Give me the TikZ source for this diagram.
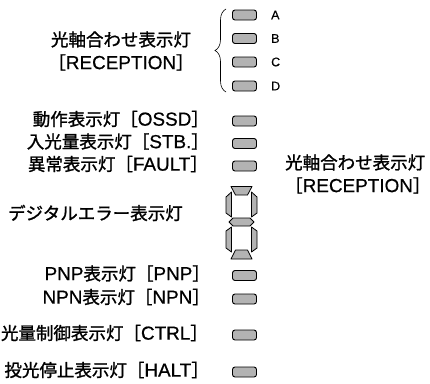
\documentclass[tikz,border=0pt]{standalone}
\usepackage{fontspec}
\setmainfont{Noto Sans CJK JP}[FakeBold=1.3]
\newfontfamily\latn{Liberation Sans}[Scale=1.08, FakeBold=0.6]
\newfontfamily\plainlatn{Liberation Sans}[FakeBold=0.3]
\newcommand{\ltx}[1]{{\latn #1}}
\usepackage{tikz}
\usetikzlibrary{positioning,decorations.pathreplacing}
\definecolor{ledgray}{HTML}{B3B3B3}

\begin{document}
\begin{tikzpicture}[
  x=1pt, y=-1pt,
  led/.style={draw, line width=0.9pt, rounded corners=2.5pt, fill=ledgray, minimum width=24pt, minimum height=10pt, inner sep=0pt},
  seg/.style={draw, line width=0.8pt, fill=ledgray, line join=round},
  lbl/.style={font=\fontsize{17.5}{23}\selectfont, inner sep=0pt, align=center},
  rowlbl/.style={lbl, yshift=2pt},
  chlbl/.style={font=\plainlatn\fontsize{12.5}{14}\selectfont, inner sep=0pt}
]
\useasboundingbox (0,0) rectangle (430,383);
% reception LEDs A-D
\node[led] (ledA) at (244.5,15) {};
\node[led] (ledB) at (244.5,38.5) {};
\node[led] (ledC) at (244.5,62) {};
\node[led] (ledD) at (244.5,86) {};
\node[chlbl, right=14pt of ledA, anchor=west] (txtA) {A};
\node[chlbl, right=14pt of ledB, anchor=west] (txtB) {B};
\node[chlbl, right=14pt of ledC, anchor=west] (txtC) {C};
\node[chlbl, right=14pt of ledD, anchor=west] (txtD) {D};
\coordinate (braceTop) at (226,9);
\coordinate (braceBot) at (226,92);
\draw[line width=0.6pt, decorate, decoration={brace, amplitude=11pt, aspect=0.5}] (braceBot) -- (braceTop);
\node[lbl] (recL) at (121,51) {光軸合わせ表示灯\\［\ltx{RECEPTION}］};
% status LEDs
\node[led] (ledOssd) at (244.5,121) {};
\node[led] (ledStb) at (244.5,143.5) {};
\node[led] (ledFault) at (244.5,166) {};
\node[rowlbl, left=23pt of ledOssd] (txtOssd) {動作表示灯［\ltx{OSSD}］};
\node[rowlbl, left=23pt of ledStb] (txtStb) {入光量表示灯［\ltx{STB.}］};
\node[rowlbl, left=24pt of ledFault] (txtFault) {異常表示灯［\ltx{FAULT}］};
\node[lbl, align=left, anchor=west] (recR) at (285,174) {光軸合わせ表示灯\\［\ltx{RECEPTION}］};
% digital error display
\draw[seg] (231,186.5) -- (252,186.5) -- (247.5,195) -- (235.5,195) -- cycle;
\draw[seg] (226,197) -- (231.5,192) -- (231.5,217) -- (226,213) -- cycle;
\draw[seg] (257,197) -- (251.5,192) -- (251.5,217) -- (257,213) -- cycle;
\draw[seg] (229,222) -- (233,218) -- (250,218) -- (254,222) -- (250,226) -- (233,226) -- cycle;
\draw[seg] (226,231) -- (231.5,227) -- (231.5,252) -- (226,248) -- cycle;
\draw[seg] (257,231) -- (251.5,227) -- (251.5,252) -- (257,248) -- cycle;
\draw[seg] (235.5,250) -- (247.5,250) -- (252,259) -- (231,259) -- cycle;
\coordinate (digit) at (226,213);
\node[lbl, left=43pt of digit] (txtDigit) {デジタルエラー表示灯};
% output LEDs
\node[led] (ledPnp) at (244.5,275.5) {};
\node[led] (ledNpn) at (244.5,299) {};
\node[led] (ledCtrl) at (244.5,335) {};
\node[led] (ledHalt) at (244.5,372) {};
\node[rowlbl, left=22pt of ledPnp] (txtPnp) {\ltx{PNP}表示灯［\ltx{PNP}］};
\node[rowlbl, left=22pt of ledNpn] (txtNpn) {\ltx{NPN}表示灯［\ltx{NPN}］};
\node[rowlbl, left=24pt of ledCtrl] (txtCtrl) {光量制御表示灯［\ltx{CTRL}］};
\node[rowlbl, left=23pt of ledHalt] (txtHalt) {投光停止表示灯［\ltx{HALT}］};
\end{tikzpicture}
\end{document}
